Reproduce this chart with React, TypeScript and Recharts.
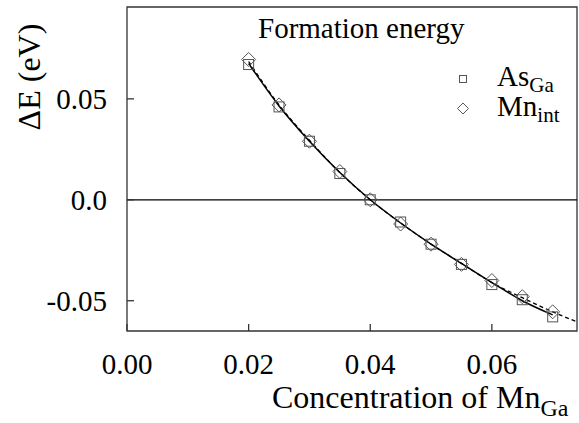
import React from 'react';
import {
  ComposedChart,
  Line,
  Scatter,
  XAxis,
  YAxis,
  ReferenceLine,
  ReferenceArea,
  Label,
} from 'recharts';

// concentrations of Mn_Ga where the defects were computed
const concentrations = [0.02, 0.025, 0.03, 0.035, 0.04, 0.045, 0.05, 0.055, 0.06, 0.065, 0.07];
const asGaValues = [0.067, 0.046, 0.029, 0.013, 0.0, -0.011, -0.022, -0.032, -0.042, -0.0495, -0.058];
const mnIntValues = [0.0695, 0.047, 0.029, 0.014, 0.0, -0.012, -0.022, -0.032, -0.040, -0.048, -0.0555];

// fitted curves (solid: As_Ga, dashed: Mn_int, which runs on to the frame)
const asGaFitValues = [0.0675, 0.0465, 0.029, 0.0135, 0.0, -0.0115, -0.022, -0.0315, -0.041, -0.050, -0.057];
const mnIntFitX = [0.02, 0.025, 0.03, 0.035, 0.04, 0.045, 0.05, 0.055, 0.06, 0.065, 0.07, 0.074];
const mnIntFitValues = [0.0685, 0.047, 0.0295, 0.0135, 0.0, -0.0115, -0.022, -0.0315, -0.041, -0.0485, -0.0555, -0.0605];

const xTicks = [0, 0.02, 0.04, 0.06];
const yTicks = [-0.05, 0, 0.05];

const X_MAX = 0.074;
const Y_MIN = -0.065;
const Y_MAX = 0.0955;

const WIDTH = 579;
const HEIGHT = 423;
const Y_AXIS_W = 120;
const X_AXIS_H = 85;
const MARGIN = { top: 7, right: 2, bottom: 7, left: 7 };
const PLOT_LEFT = MARGIN.left + Y_AXIS_W;
const PLOT_BOTTOM = HEIGHT - MARGIN.bottom - X_AXIS_H;

const SERIF = '"Liberation Serif", "Times New Roman", serif';
const FRAME = '#333';
const MARKER = '#555';

const toPoints = (xs: number[], ys: number[]) => xs.map((x, i) => ({ x, y: ys[i] }));

const asGaData = toPoints(concentrations, asGaValues);
const mnIntData = toPoints(concentrations, mnIntValues);
const asGaFit = toPoints(concentrations, asGaFitValues);
const mnIntFit = toPoints(mnIntFitX, mnIntFitValues);

const SquareMark = ({ cx, cy, s = 5 }: any) => (
  <rect x={cx - s} y={cy - s} width={s * 2} height={s * 2} fill="none" stroke={MARKER} strokeWidth={1} />
);

const DiamondMark = ({ cx, cy, s = 7 }: any) => (
  <path
    d={`M${cx},${cy - s}L${cx + s},${cy}L${cx},${cy + s}L${cx - s},${cy}Z`}
    fill="none"
    stroke={MARKER}
    strokeWidth={1}
  />
);

const XTick = ({ x, payload }: any) => (
  <g>
    <line x1={x} x2={x} y1={PLOT_BOTTOM} y2={PLOT_BOTTOM - 7} stroke={FRAME} strokeWidth={1.3} />
    <text x={x} y={374} textAnchor="middle" fontSize={29} fontFamily={SERIF} fill="#000">
      {payload.value.toFixed(2)}
    </text>
  </g>
);

const YTick = ({ y, payload }: any) => (
  <g>
    <line x1={PLOT_LEFT} x2={PLOT_LEFT + 7} y1={y} y2={y} stroke={FRAME} strokeWidth={1.3} />
    <text x={107} y={y} dy="0.35em" textAnchor="end" fontSize={29} fontFamily={SERIF} fill="#000">
      {payload.value === 0 ? '0.0' : payload.value.toFixed(2)}
    </text>
  </g>
);

const textStyle: React.CSSProperties = {
  position: 'absolute',
  fontFamily: SERIF,
  fontSize: 29,
  lineHeight: '29px',
  color: '#000',
  whiteSpace: 'nowrap',
};

const subStyle: React.CSSProperties = {
  fontFamily: SERIF,
  fontSize: 21,
  lineHeight: '16px',
  position: 'relative',
  top: 6,
};

const LegendBox = () => (
  <>
    <svg width={20} height={60} style={{ position: 'absolute', left: 453, top: 70 }}>
      <rect x={6.5} y={5.5} width={7} height={7} fill="none" stroke={MARKER} />
      <path d="M10,33L15.5,38.5L10,44L4.5,38.5Z" fill="none" stroke={MARKER} />
    </svg>
    <div style={{ ...textStyle, left: 497, top: 63, lineHeight: '27px' }}>
      As<span style={subStyle}>Ga</span>
    </div>
    <div style={{ ...textStyle, left: 497, top: 93, lineHeight: '27px' }}>
      Mn<span style={subStyle}>int</span>
    </div>
  </>
);

export default function App() {
  return (
    <div style={{ position: 'absolute', left: 0, top: 0, width: WIDTH, height: HEIGHT, background: '#fff' }}>
      <ComposedChart width={WIDTH} height={HEIGHT} margin={MARGIN}>
        <XAxis
          type="number"
          dataKey="x"
          domain={[0, X_MAX]}
          ticks={xTicks}
          allowDataOverflow
          height={X_AXIS_H}
          axisLine={false}
          tickLine={false}
          tick={<XTick />}
        >
          <Label
            content={() => (
              <text x={272} y={408} fontSize={32} fontFamily={SERIF} fill="#000">
                <tspan>Concentration of Mn</tspan>
                <tspan dy={8} fontSize={24}>Ga</tspan>
              </text>
            )}
          />
        </XAxis>
        <YAxis
          type="number"
          dataKey="y"
          domain={[Y_MIN, Y_MAX]}
          ticks={yTicks}
          allowDataOverflow
          width={Y_AXIS_W}
          axisLine={false}
          tickLine={false}
          tick={<YTick />}
        >
          <Label
            content={() => (
              <text
                x={29}
                y={77}
                transform="rotate(-90, 29, 77)"
                textAnchor="middle"
                dominantBaseline="central"
                fontSize={32}
                fontFamily={SERIF}
                fill="#000"
              >
                ΔE (eV)
              </text>
            )}
          />
        </YAxis>
        <ReferenceArea x1={0} x2={X_MAX} y1={Y_MIN} y2={Y_MAX} fill="none" stroke={FRAME} strokeWidth={1.3} />
        <ReferenceLine y={0} stroke="#000" strokeWidth={1.3} />
        <Line
          data={mnIntFit}
          dataKey="y"
          type="monotone"
          stroke="#000"
          strokeWidth={1.3}
          strokeDasharray="4 3"
          dot={false}
          isAnimationActive={false}
        />
        <Line
          data={asGaFit}
          dataKey="y"
          type="monotone"
          stroke="#000"
          strokeWidth={1.5}
          dot={false}
          isAnimationActive={false}
        />
        <Scatter data={asGaData} dataKey="y" name="AsGa" shape={<SquareMark />} isAnimationActive={false} />
        <Scatter data={mnIntData} dataKey="y" name="Mnint" shape={<DiamondMark />} isAnimationActive={false} />
      </ComposedChart>
      <div style={{ ...textStyle, left: 258, top: 14 }}>Formation energy</div>
      <LegendBox />
    </div>
  );
}
